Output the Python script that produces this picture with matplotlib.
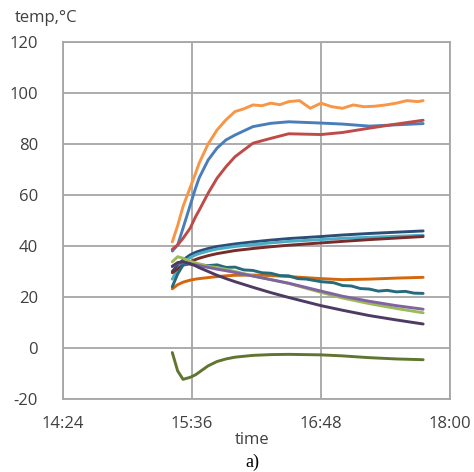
import matplotlib
matplotlib.use("Agg")
import matplotlib.pyplot as plt
from matplotlib.ticker import MultipleLocator, FuncFormatter


def to_day(s):
    # Excel style: time as fraction of a day
    h, m = s.split(":")
    return int(h) / 24 + float(m) / 1440


# common time grid for the smooth sensors
times = ["15:25", "15:28", "15:31", "15:35", "15:38", "15:40", "15:45", "15:50", "15:55",
         "16:00", "16:10", "16:20", "16:30", "16:48", "17:00", "17:15", "17:30", "17:45"]

blue = [38.0, 40.4, 47.0, 56.0, 62.7, 66.7, 73.7, 78.4, 81.6,
        83.5, 86.8, 88.1, 88.7, 88.2, 87.8, 87.0, 87.5, 88.0]
red = [38.7, 40.4, 43.0, 47.0, 51.5, 54.0, 60.7, 66.6, 71.1,
       75.0, 80.3, 82.2, 84.0, 83.7, 84.5, 86.2, 87.8, 89.3]
navy = [30.0, 32.5, 34.5, 36.5, 37.5, 38.0, 39.0, 39.8, 40.3,
        40.8, 41.6, 42.3, 42.9, 43.7, 44.3, 44.9, 45.4, 45.9]
cyan = [27.0, 31.0, 33.5, 35.5, 36.5, 37.0, 38.0, 38.8, 39.3,
        39.8, 40.6, 41.2, 41.8, 42.5, 43.0, 43.4, 43.8, 44.2]
maroon = [29.5, 31.0, 32.5, 33.8, 34.7, 35.2, 36.2, 37.0, 37.6,
          38.2, 39.0, 39.7, 40.3, 41.2, 41.8, 42.5, 43.1, 43.7]
dark_orange = [23.2, 24.8, 25.8, 26.6, 27.0, 27.2, 27.6, 28.0, 28.3,
               28.5, 28.6, 28.4, 28.0, 27.2, 26.8, 27.0, 27.4, 27.7]
light_green = [33.8, 35.8, 35.2, 34.0, 33.4, 33.0, 32.0, 31.5, 30.8,
               30.0, 28.3, 26.8, 25.3, 21.8, 19.6, 17.4, 15.5, 13.8]
purple = [32.0, 33.2, 33.5, 33.0, 32.6, 32.3, 31.6, 30.9, 30.3,
          29.6, 28.2, 26.8, 25.4, 22.3, 20.3, 18.3, 16.6, 15.2]
dark_purple = [32.0, 33.5, 33.8, 33.0, 32.2, 31.5, 30.0, 28.5, 27.2,
               26.0, 23.8, 21.7, 19.8, 16.6, 14.8, 12.7, 11.0, 9.4]
olive = [-1.8, -9.0, -12.3, -11.5, -10.5, -9.5, -7.0, -5.3, -4.3,
         -3.6, -2.9, -2.6, -2.5, -2.7, -3.1, -3.8, -4.3, -4.6]

# noisier sensors have their own readings
orange_times = ["15:25", "15:28", "15:31", "15:35", "15:38", "15:40", "15:45", "15:50",
                "15:55", "16:00", "16:05", "16:10", "16:15", "16:20", "16:25", "16:30",
                "16:36", "16:42", "16:48", "16:54", "17:00", "17:06", "17:12", "17:18",
                "17:24", "17:30", "17:36", "17:42", "17:45"]
orange = [41.6, 48.0, 55.5, 63.0, 68.5, 72.5, 80.0, 85.5,
          89.5, 92.7, 93.8, 95.3, 95.0, 96.0, 95.4, 96.6,
          97.0, 94.0, 96.0, 94.6, 94.0, 95.3, 94.6, 94.8,
          95.3, 96.0, 97.0, 96.6, 97.0]

teal_times = ["15:25", "15:28", "15:31", "15:35", "15:40", "15:45", "15:50", "15:55",
              "16:00", "16:05", "16:10", "16:15", "16:20", "16:25", "16:30", "16:35",
              "16:40", "16:48", "16:55", "17:00", "17:05", "17:10", "17:15", "17:20",
              "17:25", "17:30", "17:35", "17:40", "17:45"]
teal = [24.0, 29.0, 32.5, 33.0, 32.6, 32.3, 32.6, 31.6,
        31.7, 30.6, 30.4, 29.5, 29.3, 28.4, 28.3, 27.2,
        27.0, 26.0, 25.6, 24.5, 24.3, 23.3, 23.1, 22.3,
        22.6, 22.0, 22.2, 21.5, 21.4]

series = [
    (orange_times, orange, "#F79646"),
    (times, blue, "#4A7EBB"),
    (times, red, "#BE4B48"),
    (times, navy, "#2C4D75"),
    (times, cyan, "#4BACC6"),
    (times, maroon, "#772C2A"),
    (times, dark_orange, "#D2670E"),
    (teal_times, teal, "#276A7C"),
    (times, light_green, "#9BBB59"),
    (times, purple, "#8064A2"),
    (times, dark_purple, "#4D3B62"),
    (times, olive, "#5F7530"),
]

plt.rcParams["font.family"] = ["Open Sans", "DejaVu Sans"]
plt.rcParams["axes.unicode_minus"] = False

fig = plt.figure(figsize=(4.74, 4.72), dpi=100)
ax = fig.add_axes([0.1329, 0.1547, 0.8165, 0.7564])

for t, v, c in series:
    ax.plot([to_day(s) for s in t], v, color=c, lw=2.1, solid_capstyle="round",
            solid_joinstyle="round")

ax.set_xlim(0.6, 0.75)
ax.set_ylim(-20, 120)
ax.xaxis.set_major_locator(MultipleLocator(0.05))
ax.yaxis.set_major_locator(MultipleLocator(20))


def fmt_time(x, pos):
    mins = int(round(x * 1440))
    return "%d:%02d" % (mins // 60, mins % 60)


ax.xaxis.set_major_formatter(FuncFormatter(fmt_time))
ax.grid(True, color="#A6A6A6", lw=1.3)
ax.set_axisbelow(True)
for sp in ax.spines.values():
    sp.set_color("#A6A6A6")
    sp.set_linewidth(1.3)
ax.tick_params(length=0, labelsize=12, colors="#404040", pad=12)
ax.tick_params(axis="y", pad=18)

fig.text(0.032, 0.962, "temp,°C", fontsize=12, color="#404040", va="center", ha="left")
fig.text(0.532, 0.068, "time", fontsize=12, color="#404040", va="center", ha="center")
fig.text(0.532, 0.021, "a)", fontsize=13, family="Liberation Serif", va="center", ha="center")

fig.savefig("out.png", dpi=100)
